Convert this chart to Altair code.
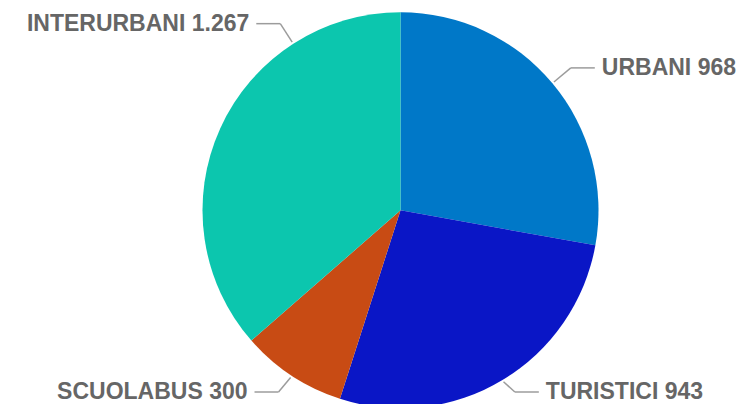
import altair as alt
import pandas as pd

categories = ["URBANI", "TURISTICI", "SCUOLABUS", "INTERURBANI"]
values = [968, 943, 300, 1267]
value_labels = ["968", "943", "300", "1.267"]
colors = ["#0078C8", "#0A16C6", "#C84B14", "#0CC6AE"]

df = pd.DataFrame({
    "cat": categories,
    "val": values,
    "lab": [f"{c} {v}" for c, v in zip(categories, value_labels)],
    "idx": list(range(len(categories))),
})

W, H = 731, 396
CX, CY = 392.5, 202.3
R = 198
R0, R1 = R + 2, R + 24
HLEN, TOFF = 24, 7
YMAX = 384  # keep bottom labels inside the canvas

xs = alt.Scale(domain=[0, W], nice=False, zero=False)
ys = alt.Scale(domain=[0, H], nice=False, zero=False, reverse=True)

base = alt.Chart(df)

pie = base.mark_arc(radius=R).encode(
    theta=alt.Theta("val:Q", stack=True),
    order=alt.Order("idx:Q"),
    color=alt.Color("cat:N", scale=alt.Scale(domain=categories, range=colors), legend=None),
    x=alt.value(CX),
    y=alt.value(CY),
)

geo = base.transform_joinaggregate(
    total="sum(val)"
).transform_window(
    cum="sum(val)", sort=[alt.SortField("idx")], frame=[None, 0]
).transform_calculate(
    frac="datum.cat == 'INTERURBANI' ? 0.75 : 0.5"
).transform_calculate(
    ang="2*PI*(datum.cum - datum.val*(1-datum.frac))/datum.total"
).transform_calculate(
    side="sin(datum.ang) >= 0 ? 1 : -1"
).transform_calculate(
    x0=f"{CX} + {R0}*sin(datum.ang)"
).transform_calculate(
    y0=f"{CY} - {R0}*cos(datum.ang)"
).transform_calculate(
    x1=f"{CX} + {R1}*sin(datum.ang)"
).transform_calculate(
    y1=f"min({YMAX}, {CY} - {R1}*cos(datum.ang))"
).transform_calculate(
    x2=f"datum.x1 + datum.side*{HLEN}"
).transform_calculate(
    xt=f"datum.x2 + datum.side*{TOFF}"
)

line_style = dict(color="#9c9c9c", strokeWidth=1.5)

seg1 = geo.mark_rule(**line_style).encode(
    x=alt.X("x0:Q", scale=xs, axis=None),
    y=alt.Y("y0:Q", scale=ys, axis=None),
    x2="x1:Q",
    y2="y1:Q",
)
seg2 = geo.mark_rule(**line_style).encode(
    x=alt.X("x1:Q", scale=xs, axis=None),
    y=alt.Y("y1:Q", scale=ys, axis=None),
    x2="x2:Q",
    y2="y1:Q",
)

text_style = dict(baseline="middle", font="Liberation Sans", fontWeight="bold",
                  fontSize=23, color="#666666", dy=0)

tr = geo.transform_filter("datum.side > 0").mark_text(align="left", **text_style).encode(
    x=alt.X("xt:Q", scale=xs, axis=None),
    y=alt.Y("y1:Q", scale=ys, axis=None),
    text="lab:N",
)
tl = geo.transform_filter("datum.side < 0").mark_text(align="right", **text_style).encode(
    x=alt.X("xt:Q", scale=xs, axis=None),
    y=alt.Y("y1:Q", scale=ys, axis=None),
    text="lab:N",
)

chart = alt.layer(pie, seg1, seg2, tr, tl).properties(
    width=W, height=H, padding=0, autosize="none"
).configure_view(stroke=None)

chart.save("out.html", embed_options={"renderer": "svg", "actions": False})
